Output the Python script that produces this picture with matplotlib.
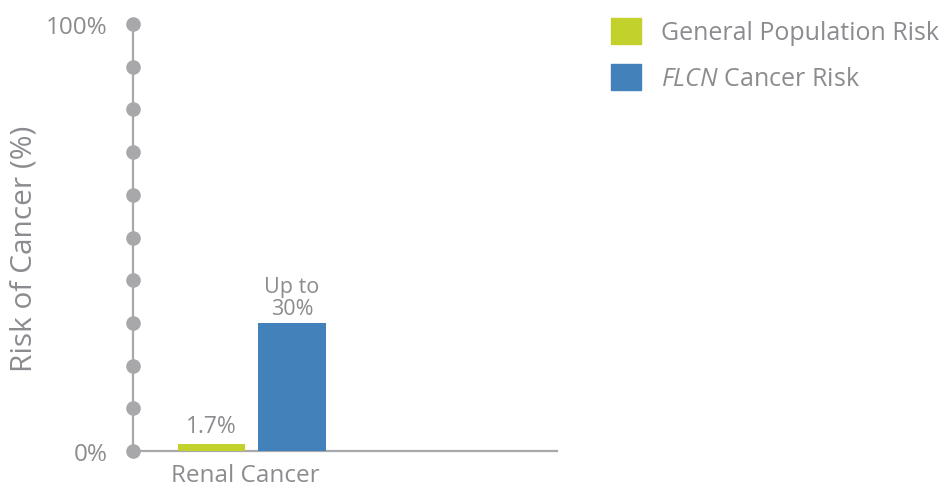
import matplotlib
matplotlib.use("Agg")
import matplotlib.pyplot as plt
import matplotlib.transforms as mtransforms
from matplotlib.patches import Rectangle

categories = ["Renal Cancer"]
series_names = ["General Population Risk", "FLCN Cancer Risk"]
general_risk = [1.7]
flcn_risk = [30]
value_labels_general = ["1.7%"]
value_labels_flcn = ["Up to\n30%"]
ytick_values = [0, 10, 20, 30, 40, 50, 60, 70, 80, 90, 100]
ytick_labels = {0: "0%", 100: "100%"}

GREEN = "#c2d12b"
BLUE = "#4281b9"
GREY = "#a8a8ab"
TEXT = "#8c8c90"

plt.rcParams['font.family'] = ['Open Sans', 'DejaVu Sans']
plt.rcParams['mathtext.fontset'] = 'custom'
plt.rcParams['mathtext.it'] = 'Open Sans:italic'
plt.rcParams['mathtext.rm'] = 'Open Sans'

fig = plt.figure(figsize=(9.49, 4.89), dpi=100)
ax = fig.add_axes([133/949, 37/489, 424/949, 427/489])
ax.set_xlim(0, 1)
ax.set_ylim(0, 100)

cat_x = [0.28]
offset = 0.095
width = 0.16
gx = [c - offset for c in cat_x]
bx = [c + offset for c in cat_x]
ax.bar(gx, general_risk, width=width, color=GREEN, zorder=2)
ax.bar(bx, flcn_risk, width=width, color=BLUE, zorder=2)

for x, v, lab in zip(gx, general_risk, value_labels_general):
    ax.annotate(lab, (x, v), xytext=(0, 4), textcoords="offset points",
                ha="center", va="bottom", fontsize=16.5, color=TEXT, linespacing=1.0)
for x, v, lab in zip(bx, flcn_risk, value_labels_flcn):
    ax.annotate(lab, (x, v), xytext=(0, 3), textcoords="offset points",
                ha="center", va="bottom", fontsize=15.5, color=TEXT, linespacing=1.05)

for s in ["top", "right"]:
    ax.spines[s].set_visible(False)
for s in ["left", "bottom"]:
    ax.spines[s].set_color(GREY)
    ax.spines[s].set_linewidth(1.6)
    ax.spines[s].set_zorder(1)

ax.plot([0]*len(ytick_values), ytick_values, 'o', color=GREY, markersize=9.5,
        clip_on=False, zorder=3)

ax.set_yticks(ytick_values)
ax.set_yticklabels([ytick_labels.get(v, "") for v in ytick_values])
ax.tick_params(axis='y', length=0, pad=18, labelsize=17.5, labelcolor=TEXT)
ax.set_xticks(cat_x)
ax.set_xticklabels(categories)
ax.tick_params(axis='x', length=0, pad=9, labelsize=17.5, labelcolor=TEXT)
shift = mtransforms.ScaledTranslation(-6/100, 0, fig.dpi_scale_trans)
for lbl in ax.get_xticklabels():
    lbl.set_transform(lbl.get_transform() + shift)

ax.set_ylabel("Risk of Cancer (%)", fontsize=21.5, color=TEXT)
ax.yaxis.label.set_va("center")
ax.yaxis.set_label_coords(-0.257, 0.475)

# legend
leg_labels = ["General Population Risk", r"$\it{FLCN}$ Cancer Risk"]
for i, (col, lab) in enumerate(zip([GREEN, BLUE], leg_labels)):
    y0 = 489 - 45 - i * 46
    fig.patches.append(Rectangle((611/949, y0/489), 30/949, 26/489,
                                 transform=fig.transFigure, color=col, figure=fig))
    fig.text(661/949, (y0 + 12)/489, lab, fontsize=18, color=TEXT,
             ha="left", va="center")

fig.savefig("out.png", dpi=100)
